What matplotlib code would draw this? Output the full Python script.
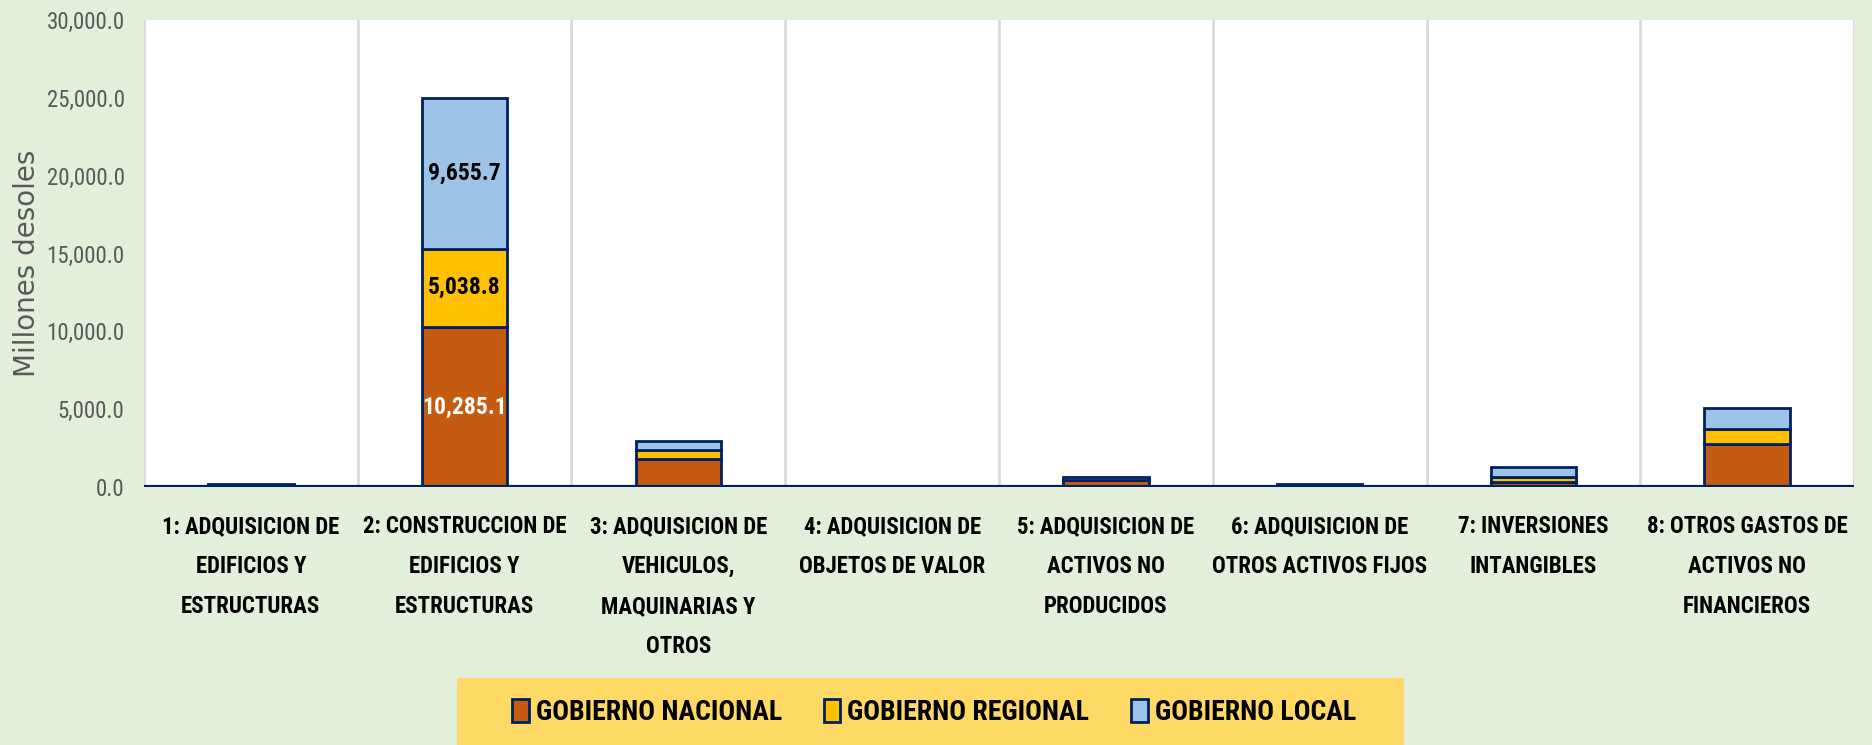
import numpy as np
import matplotlib
matplotlib.use("Agg")
from matplotlib import pyplot as plt
from matplotlib import font_manager
from matplotlib.patches import Rectangle, Patch

# fuente estrecha tipo Calibri si existe
nombres = set(f.name for f in font_manager.fontManager.ttflist)
fuente = "DejaVu Sans"
for f in ["Liberation Sans Narrow", "Roboto Condensed", "Roboto", "Lato"]:
    if f in nombres:
        fuente = f
        break
plt.rcParams['font.family'] = [fuente, 'DejaVu Sans']

categorias = ["1: ADQUISICION DE\nEDIFICIOS Y\nESTRUCTURAS",
              "2: CONSTRUCCION DE\nEDIFICIOS Y\nESTRUCTURAS",
              "3: ADQUISICION DE\nVEHICULOS,\nMAQUINARIAS Y\nOTROS",
              "4: ADQUISICION DE\nOBJETOS DE VALOR",
              "5: ADQUISICION DE\nACTIVOS NO\nPRODUCIDOS",
              "6: ADQUISICION DE\nOTROS ACTIVOS FIJOS",
              "7: INVERSIONES\nINTANGIBLES",
              "8: OTROS GASTOS DE\nACTIVOS NO\nFINANCIEROS"]
nacional = [100, 10285.1, 1780, 0, 420, 80, 340, 2760]
regional = [40, 5038.8, 600, 0, 60, 50, 280, 960]
local = [60, 9655.7, 580, 0, 170, 70, 680, 1330]
series = ["GOBIERNO NACIONAL", "GOBIERNO REGIONAL", "GOBIERNO LOCAL"]
colores = ["#C55A11", "#FFC000", "#9DC3E6"]
borde = "#002060"

fig = plt.figure(figsize=(18.72, 7.45), dpi=100)
fig.patch.set_facecolor("#E2EFDA")
ax = fig.add_axes([0.0769, 0.3463, 0.9135, 0.6267])

x = np.arange(len(categorias))
nac = np.array(nacional)
reg = np.array(regional)
loc = np.array(local)
ax.bar(x, nac, 0.4, color=colores[0], edgecolor=borde, linewidth=2, zorder=3)
ax.bar(x, reg, 0.4, bottom=nac, color=colores[1], edgecolor=borde, linewidth=2, zorder=3)
ax.bar(x, loc, 0.4, bottom=nac + reg, color=colores[2], edgecolor=borde, linewidth=2, zorder=3)

# etiquetas de la barra 2
i = 1
ax.text(x[i], nac[i] / 2, "{:,.1f}".format(nac[i]), ha="center", va="center",
        color="white", fontsize=17, fontweight="bold", zorder=4)
ax.text(x[i], nac[i] + reg[i] / 2, "{:,.1f}".format(reg[i]), ha="center", va="center",
        color="black", fontsize=17, fontweight="bold", zorder=4)
ax.text(x[i], nac[i] + reg[i] + loc[i] / 2, "{:,.1f}".format(loc[i]), ha="center", va="center",
        color="black", fontsize=17, fontweight="bold", zorder=4)

for s in np.arange(-0.5, len(categorias), 1.0):
    ax.axvline(s, color="#D9D9D9", linewidth=2, zorder=1)
ax.axhline(0, color=borde, linewidth=3, zorder=5)

ax.set_xlim(-0.5, len(categorias) - 0.5)
ax.set_ylim(0, 30000)
ax.set_yticks(np.arange(0, 30001, 5000))
ax.set_yticklabels(["{:,.1f}".format(v) for v in np.arange(0, 30001, 5000)],
                   fontsize=16.5, color="#595959")
ax.set_xticks(x)
ax.set_xticklabels(categorias, fontsize=16.5, fontweight="bold", color="black",
                   linespacing=1.95, va="top")
ax.tick_params(length=0, axis="both")
ax.tick_params(axis="x", pad=20)
ax.tick_params(axis="y", pad=14)
for lado in ax.spines.values():
    lado.set_visible(False)
fig.text(27 / 1872, 0.647, "Millones desoles", rotation=90, ha="center", va="center",
         fontsize=20, color="#595959", family="DejaVu Sans")

# leyenda sobre caja amarilla
fig.patches.append(Rectangle((457 / 1872, 0), (1404 - 457) / 1872, 67 / 745,
                             transform=fig.transFigure, facecolor="#FFD966",
                             edgecolor="none", zorder=0))
manijas = [Patch(facecolor=c, edgecolor=borde, linewidth=2) for c in colores]
fig.legend(manijas, series, loc="center", bbox_to_anchor=(0.499, 0.044), ncol=3,
           frameon=False, prop={"weight": "bold", "size": 20}, handlelength=0.6,
           handleheight=0.9, handletextpad=0.25, columnspacing=1.5)

fig.savefig("out.png", dpi=100, facecolor=fig.get_facecolor())
